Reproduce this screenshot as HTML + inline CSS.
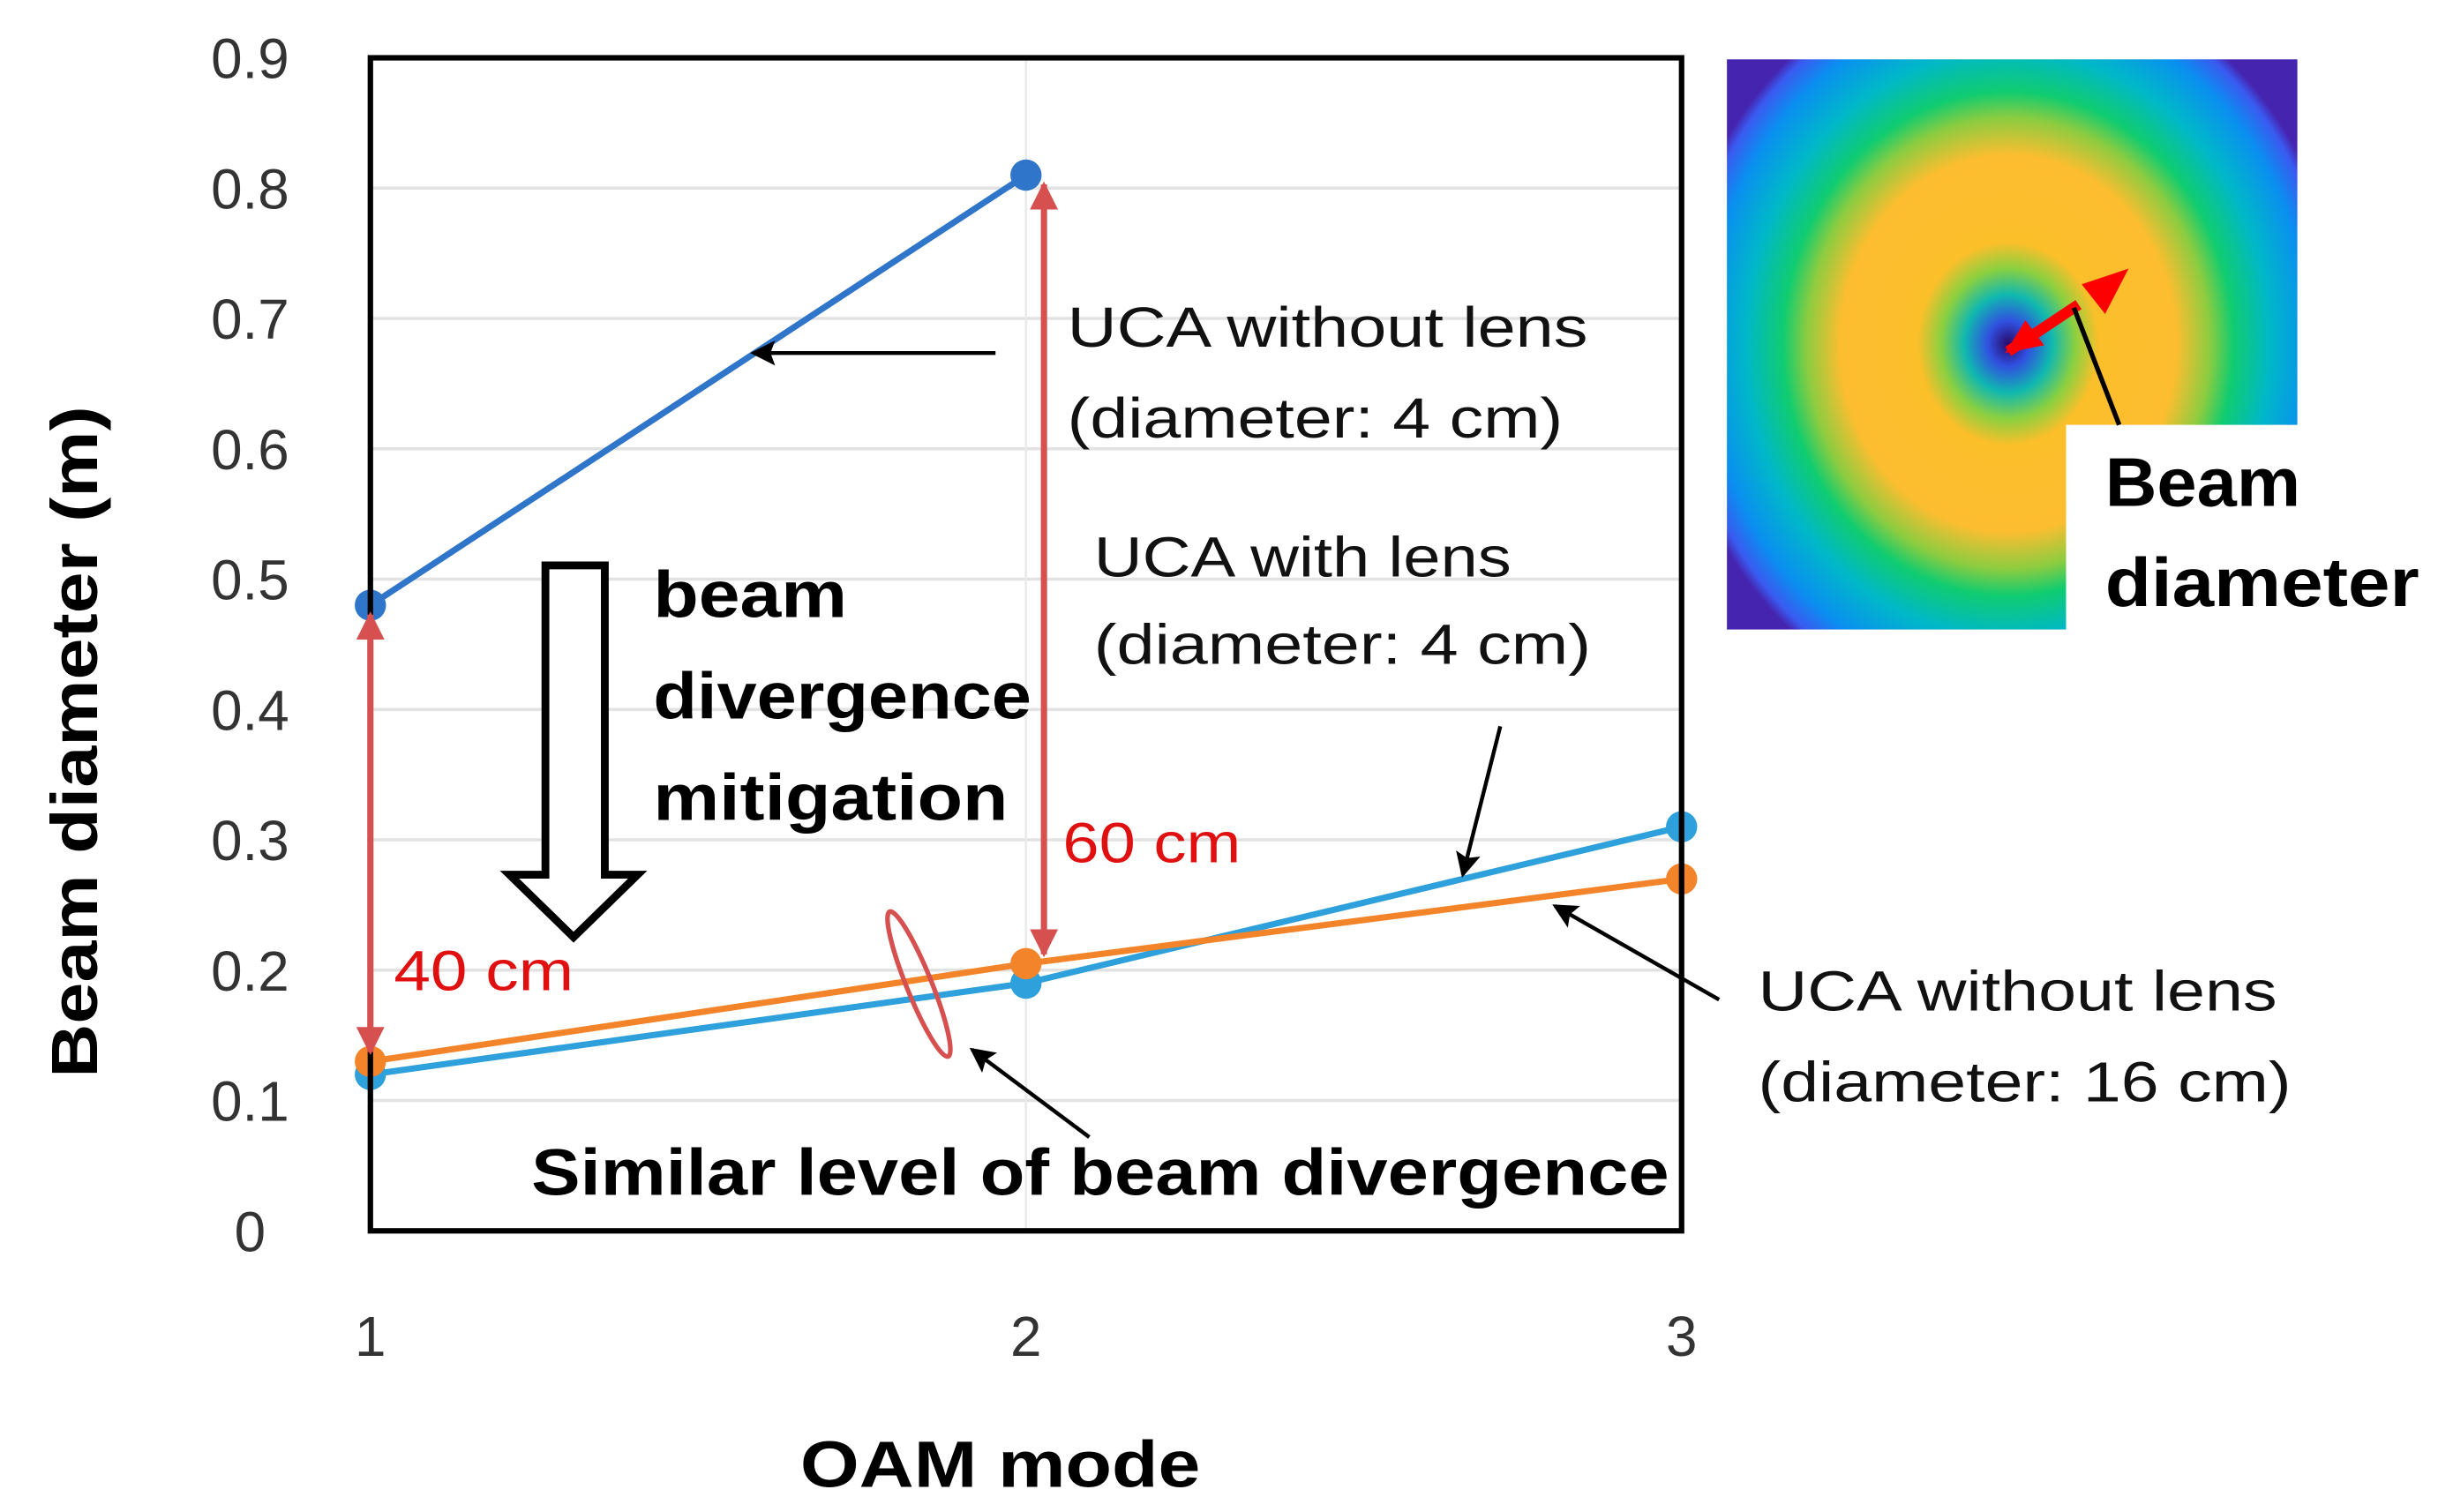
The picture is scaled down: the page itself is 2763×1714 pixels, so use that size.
<!DOCTYPE html>
<html><head><meta charset="utf-8"><style>
html,body{margin:0;padding:0;background:#fff;}
svg{display:block;}
text{font-family:"Liberation Sans",sans-serif;}
</style></head><body>
<svg width="2763" height="1714" viewBox="0 0 1560 968" preserveAspectRatio="none" xmlns="http://www.w3.org/2000/svg">
<defs>
<radialGradient id="hm" gradientUnits="userSpaceOnUse" cx="1285" cy="220" r="215" gradientTransform="translate(1285 220) scale(1 1.12) translate(-1285 -220)">
<stop offset="0" stop-color="#2a0a6a"/>
<stop offset="0.06" stop-color="#3050e0"/>
<stop offset="0.13" stop-color="#10b8b0"/>
<stop offset="0.2" stop-color="#8ad040"/>
<stop offset="0.27" stop-color="#fbbf2a"/>
<stop offset="0.5" stop-color="#fdbd30"/>
<stop offset="0.6" stop-color="#8ccc40"/>
<stop offset="0.67" stop-color="#10cc70"/>
<stop offset="0.78" stop-color="#00b8c8"/>
<stop offset="0.9" stop-color="#0a8ff0"/>
<stop offset="0.97" stop-color="#3a5af0"/>
<stop offset="1" stop-color="#4525b0"/>
</radialGradient>
<marker id="ahb" markerWidth="16" markerHeight="16" refX="14" refY="8" orient="auto" markerUnits="userSpaceOnUse"><path d="M0,0 L16,8 L0,16 L3,8 z" fill="#000"/></marker>
<marker id="rh" markerWidth="18" markerHeight="22" refX="16" refY="11" orient="auto-start-reverse" markerUnits="userSpaceOnUse"><path d="M0,2 L18,11 L0,20 z" fill="#d65050"/></marker>
</defs>
<g id="grid"></g>
<g id="yticks"></g>
<g id="xticks"></g>
<g id="series"></g>
<rect x="237" y="37" width="839" height="751" fill="none" stroke="#000" stroke-width="3.5"/>
<text x="640" y="952" text-anchor="middle" font-size="42" font-weight="bold" textLength="256" lengthAdjust="spacingAndGlyphs">OAM mode</text>
<text transform="translate(62 475) rotate(-90)" text-anchor="middle" font-size="42" font-weight="bold" textLength="430" lengthAdjust="spacingAndGlyphs">Beam diameter (m)</text>

<g id="redarrows"></g>
<text x="252" y="634" font-size="36" fill="#e01010" textLength="115" lengthAdjust="spacingAndGlyphs">40 cm</text>
<text x="680" y="552" font-size="36" fill="#e01010" textLength="114" lengthAdjust="spacingAndGlyphs">60 cm</text>

<path d="M349,362 L387,362 L387,560 L408,560 L367,600 L326,560 L349,560 Z" fill="#fff" stroke="#000" stroke-width="5" stroke-linejoin="miter"/>
<g font-size="42" font-weight="bold">
<text x="418" y="395" textLength="124" lengthAdjust="spacingAndGlyphs">beam</text>
<text x="418" y="460" textLength="242" lengthAdjust="spacingAndGlyphs">divergence</text>
<text x="418" y="525" textLength="227" lengthAdjust="spacingAndGlyphs">mitigation</text>
</g>
<g font-size="36" fill="#111">
<text x="683" y="222" textLength="333" lengthAdjust="spacingAndGlyphs">UCA without lens</text>
<text x="683" y="280" textLength="317" lengthAdjust="spacingAndGlyphs">(diameter: 4 cm)</text>
</g>
<g font-size="36" fill="#111">
<text x="700" y="369" textLength="267" lengthAdjust="spacingAndGlyphs">UCA with lens</text>
<text x="700" y="425" textLength="318" lengthAdjust="spacingAndGlyphs">(diameter: 4 cm)</text>
</g>
<g font-size="36" fill="#111">
<text x="1125" y="647" textLength="332" lengthAdjust="spacingAndGlyphs">UCA without lens</text>
<text x="1125" y="705" textLength="341" lengthAdjust="spacingAndGlyphs">(diameter: 16 cm)</text>
</g>
<text x="340" y="765" font-size="42" font-weight="bold" textLength="728" lengthAdjust="spacingAndGlyphs">Similar level of beam divergence</text>
<g stroke="#000" stroke-width="2.5" fill="none">
<line x1="637" y1="226" x2="482" y2="226" marker-end="url(#ahb)"/>
<line x1="960" y1="465" x2="936" y2="560" marker-end="url(#ahb)"/>
<line x1="1100" y1="640" x2="995" y2="580" marker-end="url(#ahb)"/>
<line x1="697" y1="728" x2="622" y2="672" marker-end="url(#ahb)"/>
</g>
<ellipse cx="588" cy="630" rx="8" ry="50" transform="rotate(-22 588 630)" fill="none" stroke="#d65050" stroke-width="3"/>

<g>
<rect x="1105" y="38" width="365" height="365" fill="url(#hm)"/>
<rect x="1322" y="272" width="230" height="140" fill="#fff"/>
<path d="M1285,225 L1330,195" stroke="#f00" stroke-width="7"/>
<path d="M1283,226 L1296,205 L1308,221 Z" fill="#f00"/>
<path d="M1362,172 L1332,182 L1347,201 Z" fill="#f00"/>
<line x1="1327" y1="197" x2="1356" y2="272" stroke="#000" stroke-width="3"/>
<text x="1347" y="324" font-size="44" font-weight="bold" textLength="125" lengthAdjust="spacingAndGlyphs">Beam</text>
<text x="1347" y="388" font-size="44" font-weight="bold" textLength="201" lengthAdjust="spacingAndGlyphs">diameter</text>
</g>
</svg>
<script>
const categories = [1, 2, 3];
const yTicks = [0, 0.1, 0.2, 0.3, 0.4, 0.5, 0.6, 0.7, 0.8, 0.9];
const yTickLabels = ["0","0.1","0.2","0.3","0.4","0.5","0.6","0.7","0.8","0.9"];
const ucaNoLens4cm = [0.48, 0.81];
const ucaLens4cm = [0.12, 0.19, 0.31];
const ucaNoLens16cm = [0.13, 0.205, 0.27];

const NS = "http://www.w3.org/2000/svg";
const X0 = 237, X1 = 1076, Y0 = 788, Y1 = 37;
function xs(c){ return X0 + (c - 1) / 2 * (X1 - X0); }
function ys(v){ return Y0 - v / 0.9 * (Y0 - Y1); }
function mk(tag, attrs, parent){ const e = document.createElementNS(NS, tag); for (const k in attrs) e.setAttribute(k, attrs[k]); parent.appendChild(e); return e; }

const grid = document.getElementById('grid');
yTicks.forEach(v => {
  if (v === 0) return;
  const l = mk('line', {x1: X0, x2: X1, y1: ys(v), y2: ys(v), stroke: '#e2e2e2', 'stroke-width': 2}, grid);
  
  
});
const vl = mk('line', {x1: xs(2), x2: xs(2), y1: Y1, y2: Y0, stroke: '#eaeaea', 'stroke-width': 1.5}, grid);



const yt = document.getElementById('yticks');
yTicks.forEach((v, i) => {
  const t = mk('text', {x: 160, y: ys(v) + 13, 'text-anchor': 'middle', 'font-size': 36, fill: '#333'}, yt);
  t.textContent = yTickLabels[i];
  
  
});
const xt = document.getElementById('xticks');
categories.forEach(c => {
  const t = mk('text', {x: xs(c), y: 868, 'text-anchor': 'middle', 'font-size': 36, fill: '#333'}, xt);
  t.textContent = String(c);
  
  
});

const sg = document.getElementById('series');
function drawSeries(vals, color, name){
  const g = mk('g', {}, sg);
  
  
  const pts = vals.map((v, i) => xs(categories[i]) + ',' + ys(v)).join(' ');
  mk('polyline', {points: pts, fill: 'none', stroke: color, 'stroke-width': 4}, g);
  vals.forEach((v, i) => {
    const c = mk('circle', {cx: xs(categories[i]), cy: ys(v), r: 10, fill: color}, g);
    
    
  });
}
drawSeries(ucaNoLens4cm, '#2f75c9', 'series-uca-no-lens-4cm');
drawSeries(ucaLens4cm, '#2ea0dc', 'series-uca-lens-4cm');
drawSeries(ucaNoLens16cm, '#f4842a', 'series-uca-no-lens-16cm');

const ra = document.getElementById('redarrows');
function dbl(x, va, vb){
  const l = mk('line', {x1: x, x2: x, y1: ys(va) + 6, y2: ys(vb) - 6, stroke: '#d65050', 'stroke-width': 4, 'marker-end': 'url(#rh)', 'marker-start': 'url(#rh)'}, ra);
  
  
}
dbl(237, ucaNoLens4cm[0], ucaNoLens16cm[0]);
dbl(668, ucaNoLens4cm[1], ucaNoLens16cm[1]);
</script>
</body></html>
